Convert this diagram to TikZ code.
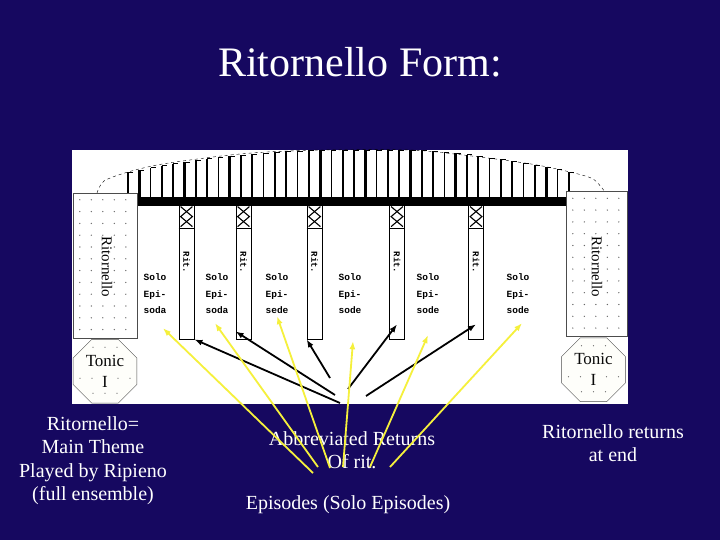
\documentclass[tikz,border=0pt]{standalone}
\usepackage{fontspec}
\setmainfont{Liberation Serif}
\newfontfamily\episodefont{Liberation Mono}
\usepackage{tikz}
\usetikzlibrary{arrows.meta,positioning,shapes.geometric,calc}
\definecolor{slidebg}{RGB}{22,8,96}
\definecolor{arrowyellow}{RGB}{245,240,60}
\definecolor{paper}{RGB}{254,254,250}
\definecolor{ink}{RGB}{10,10,10}

\begin{document}
\begin{tikzpicture}[x=1pt, y=-1pt,
  ritobox/.style={rectangle, draw=black!70, fill=white, minimum width=64pt, minimum height=145pt, inner sep=0pt},
  ritolabel/.style={rotate=-90, fill=white, inner sep=1pt, font=\fontsize{15}{15}\selectfont},
  tonic/.style={regular polygon, regular polygon sides=8, draw=black!70, fill=paper, text=ink, minimum size=69pt, inner sep=0pt, align=center, font=\fontsize{17}{21}\selectfont},
  ritbox/.style={rectangle, draw=black, fill=white, minimum width=15pt, minimum height=134pt, inner sep=0pt, thick},
  ritlabel/.style={rotate=-90, inner sep=0pt, font=\episodefont\bfseries\fontsize{9}{9}\selectfont},
  solo/.style={align=center, inner sep=2pt, font=\episodefont\bfseries\fontsize{9.5}{16.5}\selectfont},
  caption/.style={text=white, align=center, font=\fontsize{20}{23.5}\selectfont},
  dot/.style={fill=black!60},
  blackline/.style={draw=black, line width=1.8pt, -{Latex[length=8pt,width=6pt]}},
  yline/.style={draw=arrowyellow, line width=1.8pt, -{Latex[length=8pt,width=6pt]}}]

  % slide and picture area
  \path [use as bounding box, fill=slidebg] (0,0) rectangle (720,540);
  \fill [white] (72,150) rectangle (628,404);

  \node [caption, font=\fontsize{42}{42}\selectfont, anchor=base] (title) at (360,77) {Ritornello Form:};

  % Tutti bar with its comb of strokes
  \fill (137,197) rectangle (566,206);
  \foreach \i in {0,...,39} {
    \pgfmathsetmacro\tx{128+11.3*\i}
    \pgfmathsetmacro\ty{150+22*(max(340-\tx,0)/212)^2+22*(max(\tx-410,0.01)/160)^1.5}
    \pgfmathsetmacro\tw{mod(\i,4)==1 ? 2.8 : 1.7}
    \draw [line width=\tw pt] (\tx,198) -- (\tx,\ty);
    \draw [thin] (\tx,\ty) -- ++(5,0);
  }
  \draw [dashed, thin] plot [smooth] coordinates {(97,193) (104,181) (128,172) (157,165) (190,160) (230,155) (267,152) (323,150) (410,150) (463,155) (503,160) (537,165) (570,172) (593,179) (605,192)};

  % Ritornello at both ends
  \node [ritobox] (ritoL) at (105,265.5) {};
  \node [ritobox, minimum width=61pt] (ritoR) at (596.5,264) {};
  \foreach \bx in {ritoL, ritoR}
    \foreach \i in {0,...,4}
      \foreach \j in {0,...,11}
        \fill [dot] ($(\bx.north west)+(7+11.5*\i, 7+11.8*\j)$) circle (0.7pt);
  \node [ritolabel] (ritoLtext) at (107,267) {Ritornello};
  \node [ritolabel] (ritoRtext) at (597,267) {Ritornello};

  \node [tonic, below=1pt of ritoL] (tonicL) {Tonic\\I};
  \node [tonic, below=1pt of ritoR, xshift=-3pt] (tonicR) {Tonic\\I};
  \foreach \oc in {tonicL, tonicR}
    \foreach \dx/\dy in {-12/-24, 0/-24, 12/-24, -25/7, -13/7, 13/7, 25/7, -12/22, 0/22, 12/22}
      \fill [dot] ($(\oc.center)+(\dx,\dy)$) circle (0.6pt);

  % Abbreviated returns
  \foreach \n/\x in {1/186.5, 2/243.5, 3/314.5, 4/397, 5/476} {
    \node [ritbox] (rit\n) at (\x,272) {};
    \draw [thick] ($(rit\n.north west)+(0,24)$) -- ($(rit\n.north east)+(0,24)$);
    \draw [line width=1.1pt] ($(rit\n.north west)+(2,2)$) -- ($(rit\n.north east)+(-2,12)$) -- ($(rit\n.north west)+(2,22)$);
    \draw [line width=1.1pt] ($(rit\n.north east)+(-2,2)$) -- ($(rit\n.north west)+(2,12)$) -- ($(rit\n.north east)+(-2,22)$);
    \node [ritlabel] (ritlab\n) at ($(rit\n.north)+(0,58)$) {Rit.};
  }

  % Solo episodes
  \node [solo] (solo1) at (155,294) {Solo\\Epi-\\soda};
  \node [solo] (solo2) at (217,294) {Solo\\Epi-\\soda};
  \node [solo] (solo3) at (277,294) {Solo\\Epi-\\sede};
  \node [solo] (solo4) at (350,294) {Solo\\Epi-\\sode};
  \node [solo] (solo5) at (428,294) {Solo\\Epi-\\sode};
  \node [solo] (solo6) at (518,294) {Solo\\Epi-\\sode};

  % Captions
  \node [caption] (mainthm) at (93,460.5) {Ritornello=\\Main Theme\\Played by Ripieno\\(full ensemble)};
  \node [caption] (abbrev) at (352,450) {Abbreviated Returns\\Of rit.};
  \node [caption] (episodes) at (348,505) {Episodes (Solo Episodes)};
  \node [caption] (atend) at (613,443) {Ritornello returns\\at end};

  % Connectors
  \coordinate (blk1) at (340,403);
  \coordinate (blk2) at (335,395);
  \coordinate (blk3) at (330,378);
  \coordinate (blk4) at (348,389);
  \coordinate (blk5) at (366,396);
  \path [blackline] (blk1) -- (rit1.south east);
  \path [blackline] (blk2) -- ([yshift=8pt]rit2.south west);
  \path [blackline] (blk3) -- (rit3.south west);
  \path [blackline] (blk4) -- ([yshift=15pt]rit4.south);
  \path [blackline] (blk5) -- ([yshift=15pt]rit5.south);

  \coordinate (yel1) at (313,473);
  \coordinate (yel2) at (318,467);
  \coordinate (yel3) at (330,468);
  \coordinate (yel4) at (343,467);
  \coordinate (yel5) at (370,467);
  \coordinate (yel6) at (390,467);
  \path [yline] (yel1) -- ([xshift=8pt,yshift=-12pt]solo1.south);
  \path [yline] (yel2) -- ([xshift=-2pt,yshift=-7pt]solo2.south);
  \path [yline] (yel3) -- (solo3.south);
  \path [yline] (yel4) -- ([xshift=3pt,yshift=-25pt]solo4.south);
  \path [yline] (yel5) -- ([yshift=-19pt]solo5.south);
  \path [yline] (yel6) -- ([xshift=4pt,yshift=-7pt]solo6.south);
\end{tikzpicture}
\end{document}
